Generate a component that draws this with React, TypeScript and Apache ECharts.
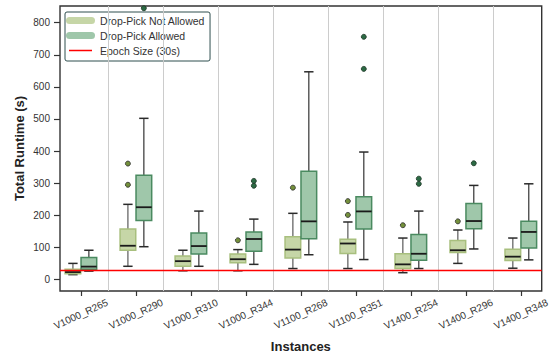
import React, { useEffect, useRef } from 'react';
import * as echarts from 'echarts';

const categories = [
  'V1000_R265', 'V1000_R290', 'V1000_R310', 'V1000_R344', 'V1100_R268',
  'V1100_R351', 'V1400_R254', 'V1400_R296', 'V1400_R348',
];

// [min, q1, median, q3, max]
const notAllowedStats = [
  [15, 18, 23, 32, 50],
  [41, 91, 105, 157, 234],
  [27, 41, 57, 73, 91],
  [27, 52, 63, 79, 93],
  [34, 67, 93, 133, 206],
  [34, 81, 112, 125, 179],
  [21, 34, 47, 80, 129],
  [50, 84, 91, 121, 154],
  [35, 59, 71, 94, 129],
];
const allowedStats = [
  [26, 32, 40, 68, 91],
  [102, 184, 225, 325, 502],
  [41, 79, 104, 145, 213],
  [47, 88, 126, 148, 188],
  [77, 127, 181, 337, 647],
  [62, 157, 212, 258, 397],
  [34, 60, 80, 140, 213],
  [95, 158, 182, 237, 293],
  [61, 98, 148, 181, 298],
];
// [categoryIndex, value]
const notAllowedOutliers = [
  [1, 295], [1, 361], [3, 122], [4, 286], [5, 201], [5, 244], [6, 169], [7, 181],
];
const allowedOutliers = [
  [1, 845], [3, 292], [3, 307], [5, 656], [5, 756], [6, 298], [6, 314], [7, 362],
];
const epochSize = 30;
const yTicks = [0, 100, 200, 300, 400, 500, 600, 700, 800];
const yMin = -36;
const yMax = 852;

const NAME_NA = 'Drop-Pick Not Allowed';
const NAME_AL = 'Drop-Pick Allowed';
const NAME_EPOCH = 'Epoch Size (30s)';

const X_PAD = 0.38;
const BOX_OFFSET = 0.145;
const BOX_WIDTH = 0.285;
const CAP_WIDTH = 0.17;

const NA_FILL = '#c6d6a7';
const NA_EDGE = '#a8bf7e';
const NA_WHISKER = '#5a5a5a';
const NA_OUT = '#74903c';
const AL_FILL = '#9fc7aa';
const AL_EDGE = '#4a8a60';
const AL_WHISKER = '#333333';
const AL_OUT = '#2c6a44';
const RED = '#ff0000';
const FONT = '"Liberation Sans", Arial, sans-serif';

const capsule = 'path://M3.5,0 H25.5 A3.5,3.5 0 0 1 25.5,7 H3.5 A3.5,3.5 0 0 1 3.5,0 Z';
// thin line icon; tiny corner specks keep the 29x7 bounding box so it is not stretched
const lineIcon = 'path://M0,0 L0.01,0 L0,0.01 Z M29,7 L28.99,7 L29,6.99 Z M3,2.85 H26 V4.15 H3 Z';

function boxRenderer(offset: number, fill: string, edge: string, whisker: string) {
  return (params: any, api: any) => {
    const x = api.value(0) + offset;
    const pMin = api.coord([x, api.value(1)]);
    const pQ1 = api.coord([x, api.value(2)]);
    const pMed = api.coord([x, api.value(3)]);
    const pQ3 = api.coord([x, api.value(4)]);
    const pMax = api.coord([x, api.value(5)]);
    const cx = pMed[0];
    const w = api.size([BOX_WIDTH, 0])[0];
    const cw = api.size([CAP_WIDTH, 0])[0];
    const hw = w / 2;
    const hc = cw / 2;
    return {
      type: 'group',
      children: [
        { type: 'line', shape: { x1: cx, y1: pQ3[1], x2: cx, y2: pMax[1] }, style: { stroke: whisker, lineWidth: 1.2 } },
        { type: 'line', shape: { x1: cx, y1: pQ1[1], x2: cx, y2: pMin[1] }, style: { stroke: whisker, lineWidth: 1.2 } },
        { type: 'line', shape: { x1: cx - hc, y1: pMax[1], x2: cx + hc, y2: pMax[1] }, style: { stroke: '#2a2a2a', lineWidth: 1.5 } },
        { type: 'line', shape: { x1: cx - hc, y1: pMin[1], x2: cx + hc, y2: pMin[1] }, style: { stroke: '#2a2a2a', lineWidth: 1.5 } },
        {
          type: 'rect',
          shape: { x: cx - hw, y: pQ3[1], width: w, height: pQ1[1] - pQ3[1] },
          style: { fill, stroke: edge, lineWidth: 1.5 },
        },
        { type: 'line', shape: { x1: cx - hw, y1: pMed[1], x2: cx + hw, y2: pMed[1] }, style: { stroke: '#1a1a1a', lineWidth: 1.8 } },
      ],
    };
  };
}

export default function App() {
  const ref = useRef<HTMLDivElement>(null);

  useEffect(() => {
    if (!ref.current) return;
    const chart = echarts.init(ref.current, undefined, { renderer: 'svg' });
    const xTickValues = categories.map((_, i) => i);

    chart.setOption({
      animation: false,
      textStyle: { fontFamily: FONT },
      grid: {
        left: 60, right: 9.3, top: 6, bottom: 69,
        outerBoundsMode: 'none',
        containLabel: false,
        show: true, borderColor: '#333', borderWidth: 1.4, backgroundColor: 'transparent',
      },
      legend: {
        orient: 'vertical',
        left: 65,
        top: 12,
        padding: [2, 5, 4, 1],
        itemGap: 2,
        itemWidth: 29,
        itemHeight: 7,
        backgroundColor: '#fff',
        borderColor: '#2f4f4f',
        borderWidth: 1,
        borderRadius: 2,
        textStyle: { fontSize: 10.5, color: '#333', fontFamily: FONT, lineHeight: 13 },
        data: [
          { name: NAME_NA, icon: capsule, itemStyle: { color: NA_FILL, borderWidth: 0 } },
          { name: NAME_AL, icon: capsule, itemStyle: { color: AL_FILL, borderWidth: 0 } },
          { name: NAME_EPOCH, icon: lineIcon, itemStyle: { color: RED, borderWidth: 0 } },
        ],
      },
      xAxis: {
        type: 'value',
        position: 'bottom',
        min: -X_PAD,
        max: categories.length - 1 + X_PAD,
        axisLine: { show: false, onZero: false },
        splitLine: { show: false },
        axisTick: { show: true, customValues: xTickValues, length: 5, lineStyle: { color: '#333', width: 1.2 } },
        axisLabel: {
          customValues: xTickValues,
          formatter: (v: number) => categories[Math.round(v)] ?? '',
          rotate: 25,
          align: 'center',
          verticalAlign: 'middle',
          margin: 23,
          fontSize: 10,
          color: '#333',
          hideOverlap: false,
        },
        name: 'Instances',
        nameLocation: 'middle',
        nameGap: 49,
        nameMoveOverlap: false,
        nameTextStyle: { fontSize: 13, fontWeight: 'bold', color: '#222' },
      },
      yAxis: {
        type: 'value',
        position: 'left',
        min: yMin,
        max: yMax,
        axisLine: { show: false, onZero: false },
        splitLine: { show: false },
        axisTick: { show: true, customValues: yTicks, length: 6, lineStyle: { color: '#333', width: 1.2 } },
        axisLabel: { customValues: yTicks, margin: 10, fontSize: 10, color: '#333' },
        name: 'Total Runtime (s)',
        nameLocation: 'middle',
        nameGap: 34,
        nameMoveOverlap: false,
        nameTextStyle: { fontSize: 13, fontWeight: 'bold', color: '#222' },
      },
      series: [
        {
          type: 'line',
          name: 'separators',
          data: [],
          z: 1,
          markLine: {
            silent: true,
            symbol: 'none',
            label: { show: false },
            lineStyle: { color: '#cccccc', width: 1, type: 'solid' },
            data: categories.slice(1).map((_, i) => ({ xAxis: i + 0.5 })),
          },
        },
        {
          type: 'custom',
          name: NAME_NA,
          z: 2,
          itemStyle: { color: NA_FILL },
          renderItem: boxRenderer(-BOX_OFFSET, NA_FILL, NA_EDGE, NA_WHISKER),
          encode: { x: 0, y: [1, 2, 3, 4, 5] },
          data: notAllowedStats.map((s, i) => [i, ...s]),
        },
        {
          type: 'custom',
          name: NAME_AL,
          z: 2,
          itemStyle: { color: AL_FILL },
          renderItem: boxRenderer(BOX_OFFSET, AL_FILL, AL_EDGE, AL_WHISKER),
          encode: { x: 0, y: [1, 2, 3, 4, 5] },
          data: allowedStats.map((s, i) => [i, ...s]),
        },
        {
          type: 'scatter',
          name: 'na_outliers',
          z: 3,
          symbolSize: 5,
          itemStyle: { color: NA_OUT, borderColor: '#2a2a2a', borderWidth: 0.8, opacity: 1 },
          data: notAllowedOutliers.map(([i, v]) => [i - BOX_OFFSET, v]),
        },
        {
          type: 'scatter',
          name: 'al_outliers',
          z: 3,
          symbolSize: 5,
          itemStyle: { color: AL_OUT, borderColor: '#1c3324', borderWidth: 0.8, opacity: 1 },
          data: allowedOutliers.map(([i, v]) => [i + BOX_OFFSET, v]),
        },
        {
          type: 'line',
          name: NAME_EPOCH,
          data: [],
          symbol: 'none',
          z: 4,
          lineStyle: { color: RED, width: 1.3 },
          itemStyle: { color: RED },
          markLine: {
            silent: true,
            symbol: 'none',
            label: { show: false },
            lineStyle: { color: RED, width: 1.3, type: 'solid' },
            data: [{ yAxis: epochSize }],
          },
        },
      ],
    });

    return () => chart.dispose();
  }, []);

  return (
    <div
      ref={ref}
      style={{ position: 'fixed', left: 0, top: 0, width: 551, height: 360, background: '#fff' }}
    />
  );
}
